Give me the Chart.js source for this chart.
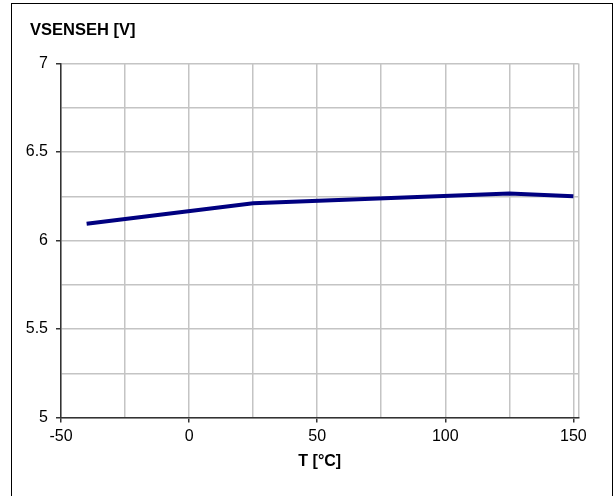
<!DOCTYPE html>
<html>
<head>
<meta charset="utf-8">
<script src="https://cdn.jsdelivr.net/npm/chart.js@4/dist/chart.umd.min.js"></script>
<style>
  html, body { margin: 0; padding: 0; background: #fff; overflow: hidden; }
  #wrap { position: relative; width: 616px; height: 496px; }
  #frame {
    position: absolute; left: 11px; top: 3px; width: 600px; height: 520px;
    border: 1.5px solid #000; pointer-events: none;
  }
  canvas { position: absolute; left: 0; top: 0; }
</style>
</head>
<body>
<div id="wrap">
  <canvas id="c" width="616" height="496"></canvas>
  <div id="frame"></div>
</div>
<script>
// Sense threshold voltage versus junction temperature
const temperatures = [-40, 25, 125, 150];
const vsenseh = [6.095, 6.21, 6.265, 6.25];

// Axis ranges, grid lines and labelled ticks
const xMin = -50, xMax = 152;
const yMin = 5, yMax = 7;
const xGridValues = [-50, -25, 0, 25, 50, 75, 100, 125, 150, 152];
const xLabelValues = [-50, 0, 50, 100, 150];
const yGridValues = [5, 5.25, 5.5, 5.75, 6, 6.25, 6.5, 6.75, 7];
const yLabelValues = [5, 5.5, 6, 6.5, 7];

const yTitle = 'VSENSEH [V]';
const xTitle = 'T [°C]';

const FONT = '"Liberation Sans", Arial, sans-serif';
Chart.defaults.color = '#000';
Chart.defaults.font.family = FONT;

const GRID = '#c4c4c4';
const AXIS = '#333';

function isLabelled(list, v) {
  return list.some(l => Math.abs(l - v) < 1e-9);
}

// Quantity name printed above the value axis, flush with the frame's left margin
const unitTitle = {
  id: 'unitTitle',
  afterDraw(chart) {
    const ctx = chart.ctx;
    ctx.save();
    ctx.font = 'bold 16.5px ' + FONT;
    ctx.fillStyle = '#000';
    ctx.textAlign = 'left';
    ctx.textBaseline = 'alphabetic';
    ctx.fillText(yTitle, 30, 34.5);
    ctx.restore();
  }
};

new Chart(document.getElementById('c'), {
  type: 'line',
  data: {
    datasets: [{
      data: temperatures.map((t, i) => ({ x: t, y: vsenseh[i] })),
      borderColor: '#000080',
      borderWidth: 4,
      pointRadius: 0,
      tension: 0,
      fill: false
    }]
  },
  plugins: [unitTitle],
  options: {
    responsive: false,
    animation: false,
    layout: { padding: { left: 12, right: 37.5, top: 63.5, bottom: 0 } },
    plugins: {
      legend: { display: false },
      tooltip: { enabled: false },
      title: { display: false }
    },
    scales: {
      x: {
        type: 'linear',
        min: xMin,
        max: xMax,
        afterBuildTicks: s => { s.ticks = xGridValues.map(v => ({ value: v })); },
        afterFit: s => { s.height = 78.5; },
        ticks: {
          autoSkip: false,
          maxRotation: 0,
          padding: 4,
          font: { family: FONT, size: 16 },
          color: '#000',
          callback: v => isLabelled(xLabelValues, v) ? String(v) : ''
        },
        grid: {
          color: GRID,
          lineWidth: 1.5,
          tickLength: 5,
          tickColor: ctx => (ctx.tick && isLabelled(xLabelValues, ctx.tick.value)) ? AXIS : 'rgba(0,0,0,0)'
        },
        border: { color: AXIS, width: 1.5 },
        title: {
          display: true,
          text: xTitle,
          color: '#000',
          font: { family: FONT, size: 16, weight: 'bold' },
          padding: { top: 0, bottom: 24.4 }
        }
      },
      y: {
        type: 'linear',
        min: yMin,
        max: yMax,
        afterBuildTicks: s => { s.ticks = yGridValues.map(v => ({ value: v })); },
        afterFit: s => { s.width = 49; },
        ticks: {
          autoSkip: false,
          padding: 8,
          font: { family: FONT, size: 16 },
          color: '#000',
          callback: v => isLabelled(yLabelValues, v) ? String(v) : ''
        },
        grid: {
          color: GRID,
          lineWidth: 1.5,
          tickLength: 5,
          tickColor: ctx => (ctx.tick && isLabelled(yLabelValues, ctx.tick.value)) ? AXIS : 'rgba(0,0,0,0)'
        },
        border: { color: AXIS, width: 1.5 }
      }
    }
  }
});
</script>
</body>
</html>
